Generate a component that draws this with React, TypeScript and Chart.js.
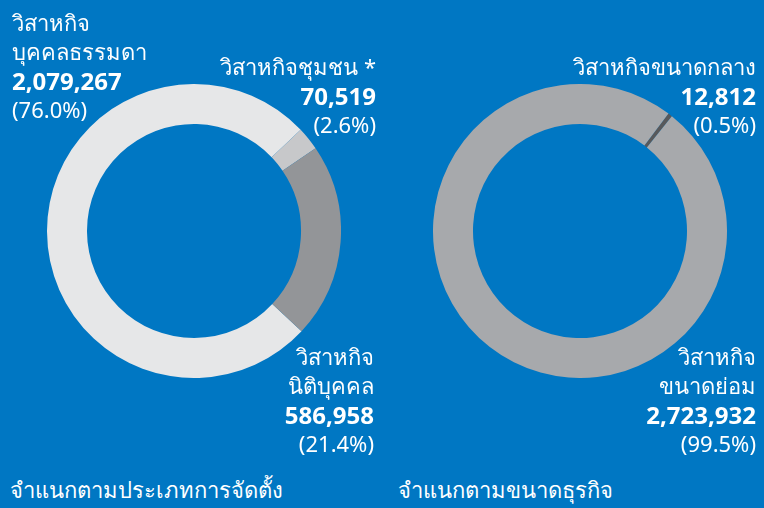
import React, { useEffect, useRef } from "react";
import { Chart, registerables } from "chart.js";

Chart.register(...registerables);

const typeLabels = ["วิสาหกิจบุคคลธรรมดา", "วิสาหกิจชุมชน *", "วิสาหกิจนิติบุคคล"];
const typeValues = [2079267, 70519, 586958];
const typeColors = ["#E6E7E8", "#C7C8CA", "#939598"];

const sizeLabels = ["วิสาหกิจขนาดกลาง", "วิสาหกิจขนาดย่อม"];
const sizeValues = [12812, 2723932];
const sizeColors = ["#58595B", "#A7A9AC"];

const BG = "rgb(0,119,195)";
const FONT = "'Noto Sans', 'DejaVu Sans', sans-serif";

function Donut({ values, colors, labels, rotation, left, top }: any) {
  const ref = useRef<HTMLCanvasElement>(null);
  useEffect(() => {
    const chart = new Chart(ref.current!, {
      type: "doughnut",
      data: {
        labels,
        datasets: [
          {
            data: values,
            backgroundColor: colors,
            borderWidth: 0,
          },
        ],
      },
      options: {
        responsive: false,
        animation: false,
        rotation,
        cutout: "72.8%",
        layout: { padding: 0 },
        plugins: { legend: { display: false }, tooltip: { enabled: false } },
        events: [],
      },
    });
    return () => chart.destroy();
  }, []);
  return (
    <canvas
      ref={ref}
      width={294}
      height={294}
      style={{ position: "absolute", left, top, width: 294, height: 294 }}
    />
  );
}

function Label({ lines, x, y, align }: any) {
  const style: any = {
    position: "absolute",
    top: y,
    color: "#fff",
    fontFamily: FONT,
    fontSize: 22,
    lineHeight: "29px",
    textAlign: align,
    whiteSpace: "nowrap",
  };
  if (align === "right") style.right = 764 - x;
  else style.left = x;
  return (
    <div style={style}>
      {lines.map((l: any, i: number) => (
        <div key={i} style={{ fontWeight: l.bold ? 700 : 400, fontSize: l.bold ? 24 : 22 }}>
          {l.t}
        </div>
      ))}
    </div>
  );
}

const fmt = (v: number) => v.toLocaleString("en-US");
const pct = (v: number, arr: number[]) =>
  "(" + ((v / arr.reduce((a, b) => a + b, 0)) * 100).toFixed(1) + "%)";

export default function App() {
  return (
    <div
      style={{
        position: "fixed",
        left: 0,
        top: 0,
        width: 764,
        height: 508,
        background: BG,
        overflow: "hidden",
      }}
    >
      <Donut values={typeValues} colors={typeColors} labels={typeLabels} rotation={133} left={47} top={84} />
      <Donut values={sizeValues} colors={sizeColors} labels={sizeLabels} rotation={37} left={433} top={84} />

      <Label
        x={12}
        y={8}
        align="left"
        lines={[
          { t: "วิสาหกิจ" },
          { t: "บุคคลธรรมดา" },
          { t: fmt(typeValues[0]), bold: true },
          { t: pct(typeValues[0], typeValues) },
        ]}
      />
      <Label
        x={376}
        y={52}
        align="right"
        lines={[
          { t: typeLabels[1] },
          { t: fmt(typeValues[1]), bold: true },
          { t: pct(typeValues[1], typeValues) },
        ]}
      />
      <Label
        x={374}
        y={342}
        align="right"
        lines={[
          { t: "วิสาหกิจ" },
          { t: "นิติบุคคล" },
          { t: fmt(typeValues[2]), bold: true },
          { t: pct(typeValues[2], typeValues) },
        ]}
      />
      <Label
        x={756}
        y={52}
        align="right"
        lines={[
          { t: sizeLabels[0] },
          { t: fmt(sizeValues[0]), bold: true },
          { t: pct(sizeValues[0], sizeValues) },
        ]}
      />
      <Label
        x={756}
        y={342}
        align="right"
        lines={[
          { t: "วิสาหกิจ" },
          { t: "ขนาดย่อม" },
          { t: fmt(sizeValues[1]), bold: true },
          { t: pct(sizeValues[1], sizeValues) },
        ]}
      />
      <div style={{ position: "absolute", left: 10, top: 473, color: "#fff", fontFamily: FONT, fontSize: 22, whiteSpace: "nowrap" }}>
        จำแนกตามประเภทการจัดตั้ง
      </div>
      <div style={{ position: "absolute", left: 398, top: 473, color: "#fff", fontFamily: FONT, fontSize: 22, whiteSpace: "nowrap" }}>
        จำแนกตามขนาดธุรกิจ
      </div>
    </div>
  );
}
